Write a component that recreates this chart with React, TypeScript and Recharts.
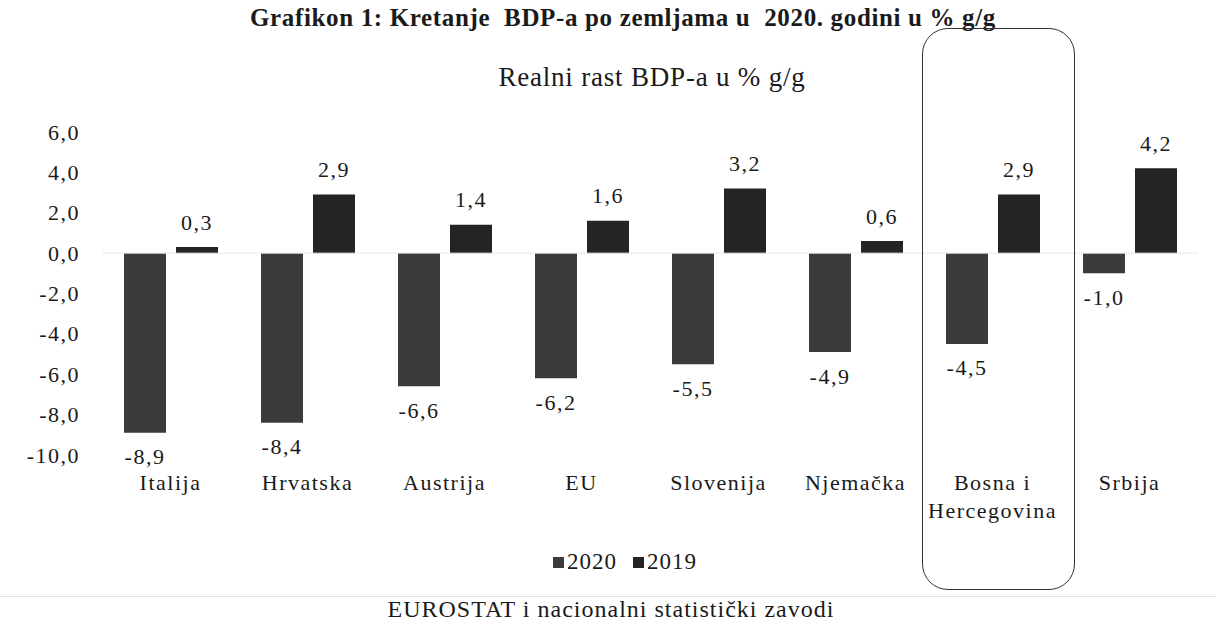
import React from 'react';
import { BarChart, Bar, XAxis, YAxis, LabelList, Legend, ReferenceLine } from 'recharts';

const categories = ['Italija', 'Hrvatska', 'Austrija', 'EU', 'Slovenija', 'Njemačka', 'Bosna i Hercegovina', 'Srbija'];
const values2020 = [-8.9, -8.4, -6.6, -6.2, -5.5, -4.9, -4.5, -1.0];
const values2019 = [0.3, 2.9, 1.4, 1.6, 3.2, 0.6, 2.9, 4.2];
const yTicks = [-10, -8, -6, -4, -2, 0, 2, 4, 6];
const seriesNames = ['2020', '2019'];
const seriesColors = ['#3b3b3b', '#242424'];

const data = categories.map((c, i) => ({ name: c, v2020: values2020[i], v2019: values2019[i] }));

const FONT = '"Liberation Serif", "Times New Roman", serif';
const fmt = (v: number) => v.toFixed(1).replace('.', ',');
const textStyle = { fontFamily: FONT, fontSize: 22, letterSpacing: 1.5 } as React.CSSProperties;

const renderLabel = (props: any) => {
  const { x, y, width, height, value } = props;
  const top = Math.min(y, y + height);
  const bottom = Math.max(y, y + height);
  const cx = x + width / 2;
  const ty = value < 0 ? bottom + 24 : top - 25;
  return (
    <text x={cx} y={ty} textAnchor="middle" dominantBaseline="central" style={textStyle} fill="#1a1a1a">
      {fmt(value)}
    </text>
  );
};

const CatTick = (props: any) => {
  const { x, y, payload } = props;
  const lines = payload.value === 'Bosna i Hercegovina' ? ['Bosna i', 'Hercegovina'] : [payload.value];
  return (
    <text x={x} y={y} textAnchor="middle" style={textStyle} fill="#1a1a1a">
      {lines.map((l, i) => (
        <tspan key={i} x={x} dy={i === 0 ? '0.71em' : 28}>{l}</tspan>
      ))}
    </text>
  );
};

const YTick = (props: any) => {
  const { x, y, payload } = props;
  return (
    <text x={x} y={y} textAnchor="end" dominantBaseline="central" style={textStyle} fill="#1a1a1a">
      {fmt(payload.value)}
    </text>
  );
};

const LegendContent = () => (
  <div style={{ height: 111, position: 'relative', fontFamily: FONT, fontSize: 23, color: '#1a1a1a' }}>
    <div style={{ position: 'absolute', top: 29, left: 0, width: 1250, display: 'flex', justifyContent: 'center', gap: 16, letterSpacing: 1 }}>
      {seriesNames.map((n, i) => (
        <span key={n} style={{ display: 'inline-flex', alignItems: 'center' }}>
          <span style={{ display: 'inline-block', width: 11, height: 11, background: seriesColors[i], marginRight: 3 }} />
          {n}
        </span>
      ))}
    </div>
  </div>
);

export default function App() {
  return (
    <div style={{ position: 'absolute', left: 0, top: 0, width: 1216, height: 631, background: '#fff', overflow: 'hidden', fontFamily: FONT }}>
      <div style={{ position: 'absolute', top: 4, left: 0, width: 1246, textAlign: 'center', fontWeight: 'bold', fontSize: 25, letterSpacing: 0.65, color: '#1a1a1a', whiteSpace: 'pre' }}>
        {'Grafikon 1: Kretanje  BDP-a po zemljama u  2020. godini u % g/g'}
      </div>
      <div style={{ position: 'absolute', top: 62, left: 0, width: 1304, textAlign: 'center', fontSize: 27, letterSpacing: 0.8, color: '#1a1a1a' }}>
        Realni rast BDP-a u % g/g
      </div>
      <BarChart
        width={1216}
        height={631}
        data={data}
        margin={{ top: 132, right: 18, left: 0, bottom: 0 }}
        barGap={10}
        barSize={42}
      >
        <XAxis dataKey="name" axisLine={false} tickLine={false} height={65} tickMargin={13} tick={<CatTick />} interval={0} />
        <YAxis
          domain={[-10, 6]}
          ticks={yTicks}
          width={102}
          axisLine={false}
          tickLine={false}
          tickMargin={16}
          tick={<YTick />}
          interval={0}
        />
        <ReferenceLine y={0} stroke="#e6e6e6" strokeWidth={1} />
        <Legend verticalAlign="bottom" content={<LegendContent />} />
        <Bar dataKey="v2020" name={seriesNames[0]} fill={seriesColors[0]} isAnimationActive={false}>
          <LabelList dataKey="v2020" content={renderLabel} />
        </Bar>
        <Bar dataKey="v2019" name={seriesNames[1]} fill={seriesColors[1]} isAnimationActive={false}>
          <LabelList dataKey="v2019" content={renderLabel} />
        </Bar>
      </BarChart>
      <div style={{ position: 'absolute', left: 922, top: 28, width: 151, height: 560, border: '1.5px solid #333', borderRadius: 26, pointerEvents: 'none' }} />
      <div style={{ position: 'absolute', left: 0, top: 596, width: 1216, height: 1, background: '#e2e2e2' }} />
      <div style={{ position: 'absolute', top: 596, left: 0, width: 1222, textAlign: 'center', fontSize: 24, color: '#1a1a1a', letterSpacing: 1 }}>
        EUROSTAT i nacionalni statistički zavodi
      </div>
    </div>
  );
}
